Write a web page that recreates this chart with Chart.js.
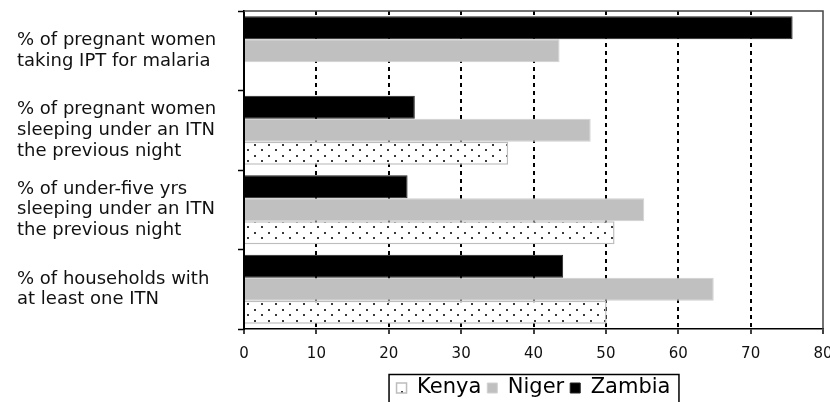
<!DOCTYPE html>
<html>
<head>
<meta charset="utf-8">
<title>Malaria prevention indicators</title>
<script src="https://cdn.jsdelivr.net/npm/chart.js@4/dist/chart.umd.min.js"></script>
<style>
  html, body { margin: 0; padding: 0; background: #fff; }
  #wrap { width: 830px; height: 402px; }
</style>
</head>
<body>
<div id="wrap"><canvas id="chart" width="830" height="402"></canvas></div>
<script>
// ---------- data ----------
const categories = [
  ['% of pregnant women', 'taking IPT for malaria'],
  ['% of pregnant women', 'sleeping under an ITN', 'the previous night'],
  ['% of under-five yrs', 'sleeping under an ITN', 'the previous night'],
  ['% of households with', 'at least one ITN']
];
const zambia = [75.8, 23.6, 22.6, 44.1];
const niger  = [43.6, 47.9, 55.3, 64.9];
const kenya  = [null, 36.5, 51.2, 50.1];
const xTicks = [0, 10, 20, 30, 40, 50, 60, 70, 80];

const FONT = '"DejaVu Sans", Verdana, sans-serif';

// dotted fill for Kenya bars
function dotPattern() {
  const c = document.createElement('canvas');
  c.width = 14;
  c.height = 11;
  const g = c.getContext('2d');
  g.fillStyle = '#fff';
  g.fillRect(0, 0, 14, 11);
  g.fillStyle = '#3a3a3a';
  g.fillRect(2, 1, 2, 2);
  g.fillRect(9, 6, 2, 2);
  return g.createPattern(c, 'repeat');
}

// box round the plot (top + right) and round the legend
const framePlugin = {
  id: 'frame',
  afterDatasetsDraw(chart) {
    const { ctx, chartArea: a } = chart;
    ctx.save();
    ctx.strokeStyle = '#444';
    ctx.lineWidth = 1.5;
    ctx.beginPath();
    ctx.moveTo(a.left, a.top);
    ctx.lineTo(a.right, a.top);
    ctx.lineTo(a.right, a.bottom);
    ctx.stroke();
    ctx.restore();
  },
  afterDraw(chart) {
    const lg = chart.legend;
    if (!lg || !lg.legendHitBoxes || !lg.legendHitBoxes.length) return;
    const boxes = lg.legendHitBoxes;
    const left = Math.min(...boxes.map(b => b.left)) - 8;
    const right = Math.max(...boxes.map(b => b.left + b.width)) + 8;
    const midY = boxes[0].top + boxes[0].height / 2;
    const ctx = chart.ctx;
    ctx.save();
    ctx.strokeStyle = '#000';
    ctx.lineWidth = 1.5;
    ctx.strokeRect(left + 0.5, midY - 13.5, right - left, 40);
    ctx.restore();
  }
};

const kenyaFill = dotPattern();

new Chart(document.getElementById('chart'), {
  type: 'bar',
  data: {
    labels: categories,
    datasets: [
      { label: 'Zambia', data: zambia, backgroundColor: '#000', borderColor: '#222', borderWidth: 1 },
      { label: 'Niger', data: niger, backgroundColor: '#c0c0c0', borderColor: '#d0d0d0', borderWidth: 1 },
      { label: 'Kenya', data: kenya, backgroundColor: kenyaFill, borderColor: '#bdbdbd', borderWidth: 1.5 }
    ]
  },
  options: {
    indexAxis: 'y',
    responsive: false,
    animation: false,
    devicePixelRatio: 1,
    categoryPercentage: 0.87,
    barPercentage: 1,
    layout: { padding: { left: 17, right: 7, top: 11, bottom: -6.5 } },
    plugins: {
      tooltip: { enabled: false },
      legend: {
        position: 'bottom',
        fullSize: false,
        reverse: true,
        labels: {
          color: '#000',
          font: { family: FONT, size: 21 },
          boxWidth: 10,
          boxHeight: 10,
          padding: 6
        }
      }
    },
    scales: {
      x: {
        min: 0,
        max: 80,
        afterBuildTicks: axis => { axis.ticks = xTicks.map(v => ({ value: v })); },
        afterFit: axis => {
          axis.height = 42.5;
          axis.paddingLeft = 0;
          axis.paddingRight = 0;
        },
        ticks: {
          color: '#111',
          font: { family: FONT, size: 15 },
          padding: 11
        },
        grid: {
          color: ctx => (ctx.tick && (ctx.tick.value === 0 || ctx.tick.value === 80)) ? 'rgba(0,0,0,0)' : '#000',
          lineWidth: 2,
          tickColor: '#000',
          tickLength: 5,
          tickWidth: 1.5,
          tickBorderDash: []
        },
        border: { display: true, color: '#000', width: 1.5, dash: [4, 4] }
      },
      y: {
        afterFit: axis => {
          axis.width = 227;
          axis.paddingTop = 0;
          axis.paddingBottom = 0;
        },
        ticks: {
          color: '#111',
          crossAlign: 'far',
          font: { family: FONT, size: 18, lineHeight: 1.15 }
        },
        grid: {
          offset: true,
          drawOnChartArea: false,
          tickColor: '#000',
          tickLength: 6,
          tickWidth: 1.5
        },
        border: { display: true, color: '#000', width: 2 }
      }
    }
  },
  plugins: [framePlugin]
});
</script>
</body>
</html>
